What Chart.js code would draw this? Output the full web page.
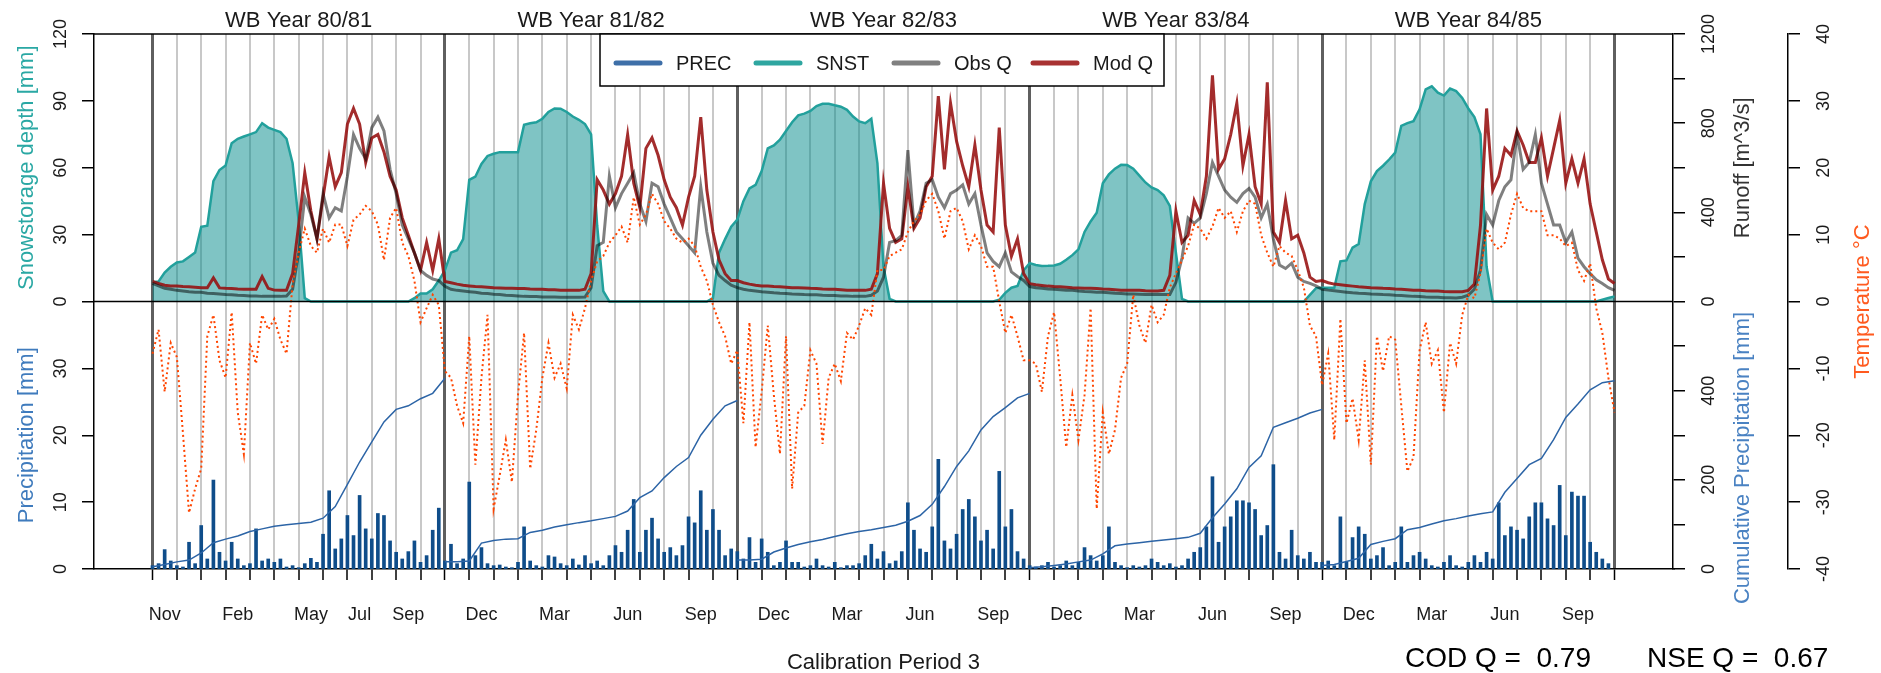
<!DOCTYPE html>
<html>
<head>
<meta charset="utf-8">
<script src="https://cdn.jsdelivr.net/npm/chart.js@4.4.1/dist/chart.umd.min.js"></script>
<style>
html,body{margin:0;padding:0;background:#fff;}
canvas{display:block;}
</style>
</head>
<body>
<canvas id="chart" width="1881" height="673"></canvas>
<script>
/* values every quarter month, Nov 1980 .. Oct 1985 */
const snst = [
  8.6,9,13,15.6,17.5,18,20,22,33.5,34,54,59,61,71,73,74,75,76,80,78,77,76,73,62,36,1.5,0,0,0,0,0,0,0,0,0,0,0,0,0,0,0,0,0,1.5,3.6,3.6,5.5,9.4,
  14,21.9,23,28,54.6,56,61.7,65.3,66.3,67,67,67,67,79.3,80,80.4,82,85,86.6,86.5,85,83,81.5,79.6,75,34,4.7,0,0,0,0,0,0,0,0,0,0,0,0,0,0,0,0,0,1.5,21.9,28,33.6,
  36.7,45,50.7,52.3,58.5,68.7,70,72.6,76.5,80.4,83.5,84.3,85.5,87.7,88.7,88.7,88,87.4,86,83,80.8,80,82,62,15.6,1.2,0,0,0,0,0,0,0,0,0,0,0,0,0,0,0,0,0,0.8,3.9,6.2,7,14,
  17.2,16.4,15.9,16,16.2,16.9,18.7,20.8,23.4,31.2,35.9,39.8,53,57,59.6,61.3,61.2,59.6,56.5,53.4,51.2,50,47.6,42.9,21.9,1.2,0,0,0,0,0,0,0,0,0,0,0,0,0,0,0,0,0,0,0,0,3,6,
  6.2,6.2,6.2,18,18.4,24.2,25.8,43.7,53.9,58.5,60.9,63.7,66.8,78.8,80,80.9,86.2,95.2,96.5,93.7,92.4,95.5,94.4,91.3,86.6,82.7,75,15.6,0,0,0,0,0,0,0,0,0,0,0,0,0,0,0,0,0,0,0.8,1.6,
  2.3
];
const obsQ = [
  81,70,59,55,50,47,44,42,41,37,36,34,31,30,28,27,25,25,23,23,23,23,25,55,218,468,390,281,484,375,421,406,562,749,687,640,780,827,765,593,484,343,281,218,140,117,101,94,
  68,55,50,47,44,41,37,36,33,31,28,27,25,23,22,22,20,20,20,19,19,19,19,20,62,250,265,562,421,484,531,578,437,359,531,515,437,375,312,281,250,218,515,312,172,117,94,73,
  62,55,50,47,44,42,39,37,36,34,33,31,30,30,28,27,27,25,25,23,23,23,28,47,109,265,273,297,679,343,406,531,546,468,421,484,500,523,437,484,343,218,180,156,218,133,112,94,
  67,62,59,56,55,53,51,50,47,45,44,42,41,39,37,36,34,34,33,31,31,31,31,31,86,195,375,351,375,484,624,562,500,468,445,484,507,468,375,437,281,164,148,172,109,90,81,70,
  55,51,48,45,42,39,37,36,34,33,31,30,28,27,25,23,22,20,19,19,17,17,16,19,28,55,140,390,343,453,515,546,749,593,624,749,531,437,343,343,265,312,195,156,125,97,81,62,
  50
];
const modQ = [
  90,81,73,70,69,67,66,64,62,62,106,61,59,58,56,55,55,55,112,59,51,50,50,125,343,578,406,281,468,648,515,578,796,866,796,624,734,749,671,562,500,375,297,218,140,265,140,281,
  90,84,78,73,70,67,66,64,62,61,59,59,58,58,56,55,55,53,53,51,51,50,50,55,125,546,500,437,484,562,749,531,421,687,734,656,546,468,421,343,468,562,827,500,312,187,125,94,
  94,84,78,73,70,69,67,66,64,62,62,61,59,58,56,55,55,53,51,51,50,50,55,125,531,328,265,281,515,328,375,515,562,921,593,890,718,609,515,702,500,343,312,780,343,203,281,125,
  80,75,72,69,67,66,64,62,61,59,59,58,56,55,53,51,50,50,50,48,47,47,50,117,406,265,297,453,390,562,1015,593,640,749,890,609,749,515,437,983,312,265,453,281,297,218,109,90,
  94,84,78,75,72,69,66,64,62,61,59,58,56,55,53,51,50,48,47,47,45,44,44,44,50,78,343,866,500,562,687,656,765,702,624,624,734,562,687,812,531,640,531,640,437,312,187,101,
  81
];
const temp = [
  -7.8,-4.2,-13.5,-6.2,-8.3,-19.7,-31.6,-28,-25,-5.2,-2,-8.8,-11.4,-1.6,-16.6,-22.8,-6.2,-9.3,-2,-4.2,-2.6,-5.7,-7.8,2.6,7.3,10.9,8.3,7.3,10.9,8.8,11.5,11.5,8.3,12.2,13,14.3,13.5,11.5,6.2,12.5,14,8.8,6.8,3.1,-3.1,-1,1,-0.5,
  -10.4,-11.4,-15.6,-18.2,-5.2,-24.4,-11.4,-2,-31,-26,-20.7,-27,-14,-4.7,-25,-19.2,-11.4,-6.2,-11.4,-9.3,-13,-2,-4.2,-1,3.1,6,6.8,8.8,9.9,11.2,8.8,15.6,11.5,13,16.1,14.6,12,10.9,9.4,8.8,9.4,8.3,5.2,3.1,-0.5,-3.1,-5.2,-9.3,
  -7.3,-18.2,-3.1,-21.8,-13.5,-3.6,-14,-22.8,-5.2,-28,-16.6,-15.6,-7.3,-9.3,-21.3,-11.4,-9.3,-11.9,-4.7,-5.7,-3.6,-1,-2,4.7,4.7,6.8,7.3,7.8,10.4,12,13,15.1,16.1,13.5,9.4,13.5,14,12,7.8,9.9,8.3,5.2,5.2,0,-4.7,-2,-5.2,-8.8,
  -8.8,-9.3,-13.5,-5.2,-1.6,-11.4,-21.8,-14,-20.7,-14,-1,-31,-16.6,-22.8,-19.2,-11.4,-9.3,1,-3.6,-6.2,-0.5,-3.1,-2,2.1,4.2,6.2,8.3,11.5,10.9,9.4,11.2,14,12.5,13.5,10.4,13.5,15.1,14.6,9.9,7.3,5.2,8.3,7.3,6.8,4.7,2.1,-3.6,-5.2,
  -12.5,-7.8,-20.7,-2.6,-18.2,-14.5,-20.7,-8.8,-24.4,-5.2,-10.4,-5.2,-5.7,-15.6,-25.4,-23.3,-7.3,-3.1,-9.3,-7.3,-16.6,-6.2,-9.3,-2,1,0.5,4.2,10.9,8.8,7.8,8.8,13,16.1,14,13.5,13.5,13.5,9.9,9.9,9.4,8.3,8.8,4.7,3.1,5.7,-1,-4.7,-11.4,
  -16.6
];
const prec = [
  0.5,0.8,2.9,1.2,0.5,0.3,4,0.8,6.5,1.5,13.3,2.5,1.2,4,1.5,0.5,0.8,6,1.2,1.5,1,1.5,0.3,0.5,0.2,0.8,1.6,1,5.2,11.7,3,4.5,8,5,11,6,4.5,8.3,8,4.2,2.5,1.5,2.6,4.2,1,2,5.8,9.1,
  1.2,3.7,0.8,1.5,13,2,3.2,0.8,0.5,0.6,0.3,0.2,1,6.3,1.2,0.5,0.3,2,1.8,0.8,0.5,1.5,0.6,2,0.8,1.2,0.5,2,3.5,2.5,5.8,10.4,2.5,5.8,7.6,4.5,2.5,3.2,2,3.5,7.8,6.9,11.7,5.8,8.9,5.8,2,3,
  2.6,1.5,4.7,1,4.5,2.5,0.5,1,4.2,1,1,0.3,0.5,1.5,0.5,0.3,1,0.2,0.5,0.5,0.8,2,3.7,1.5,2.6,0.8,1.2,2.6,9.9,5.8,3,2.5,6.3,16.4,4.2,3,5.2,8.9,10.4,7.8,4.2,5.8,3,14.6,6.3,8.9,2.6,1.5,
  0.5,0.3,0.5,1,0.3,0.5,1.2,0.5,1,3.2,2,1.2,2,6.3,1,0.5,0.2,0.5,0.3,0.5,1.5,1,0.5,0.8,0.3,0.5,1.5,2.5,3.2,6.3,13.8,4,6.3,7.8,10.2,10.2,9.9,8.9,5,6.5,15.6,2.5,1.5,5.8,2,1.5,2.5,1,
  1,1.2,0.5,7.8,1,4.7,6.3,5.2,1.5,2,3.2,0.5,1,6.3,1,2,2.5,1.5,0.5,0.3,1,2,0.5,0.3,1,2,1,2.5,1.5,9.9,5,6.3,5.8,4.5,7.8,9.9,9.9,7.5,6.5,12.5,5,11.5,10.9,10.9,4,2.5,1.5,0.8
];
/* cumulative precipitation, every half month, restarts each water year */
const cumPrec = [
  [5,10,16,20,36,59,67,74,84,90,96,99,102,105,114,140,190,240,285,330,358,366,382,394,428],
  [16,16,18,58,64,67,68,82,87,94,99,104,108,113,118,130,160,175,205,230,250,300,336,366,378],
  [20,20,22,38,47,55,61,66,73,79,84,88,93,98,107,120,145,185,230,265,312,342,362,384,394],
  [3,5,8,11,16,20,34,52,56,59,62,65,68,71,80,115,146,180,228,254,318,328,338,350,358],
  [8,10,17,24,55,62,68,88,93,101,108,113,119,124,128,172,203,234,248,290,340,370,402,418,422]
];

const yearTitles = ['WB Year 80/81','WB Year 81/82','WB Year 82/83','WB Year 83/84','WB Year 84/85'];
const monthLabels = [[0,'Nov'],[3,'Feb'],[6,'May'],[8,'Jul'],[10,'Sep'],
  [13,'Dec'],[16,'Mar'],[19,'Jun'],[22,'Sep'],[25,'Dec'],[28,'Mar'],[31,'Jun'],[34,'Sep'],
  [37,'Dec'],[40,'Mar'],[43,'Jun'],[46,'Sep'],[49,'Dec'],[52,'Mar'],[55,'Jun'],[58,'Sep']];
const snowTicks = [0,30,60,90,120];
const precTicks = [0,10,20,30];
const runoffTicks = [0,400,800,1200];
const cumTicks = [0,200,400];
const legendItems = [['PREC','#3e6fa8'],['SNST','#2ea6a0'],['Obs Q','#808080'],['Mod Q','#a83232']];
const stats = ['COD Q =  0.79','NSE Q =  0.67'];

const FONT = "'Liberation Sans', Arial, sans-serif";
Chart.defaults.font.family = FONT;

const STEP = 0.25;
const pts = arr => arr.map((v,i)=>({x:i*STEP, y:v}));
const precData = prec.map((v,i)=>({x:i*STEP, y:v}));
const cumData = [];
cumPrec.forEach((yr,k)=>{
  yr.forEach((v,j)=>cumData.push({x:k*12+j*0.5, y:v}));
  cumData.push({x:k*12+12, y:null});
});
const labelFor = {};
monthLabels.forEach(([m,l])=>labelFor[m]=l);

function vtext(ctx, txt, x, y, color){
  ctx.save();
  ctx.translate(x,y);
  ctx.rotate(-Math.PI/2);
  ctx.fillStyle = color;
  ctx.textAlign = 'center';
  ctx.textBaseline = 'middle';
  ctx.fillText(txt,0,0);
  ctx.restore();
}

const decor = {
  id:'decor',
  afterDatasetsDraw(chart){
    const {ctx, chartArea:a, scales} = chart;
    const y0 = scales.yL.getPixelForValue(0);
    ctx.save();
    ctx.strokeStyle = '#000';
    ctx.lineWidth = 1.5;
    ctx.beginPath();
    ctx.moveTo(a.left,y0); ctx.lineTo(a.right,y0);
    ctx.moveTo(a.left,a.top); ctx.lineTo(a.right,a.top);
    ctx.stroke();
    ctx.restore();
  },
  afterDraw(chart){
    const {ctx, chartArea:a, scales} = chart;
    const y0 = scales.yL.getPixelForValue(0);
    ctx.save();
    // year titles
    ctx.font = '22px '+FONT;
    ctx.fillStyle = '#1a1a1a';
    ctx.textAlign = 'center';
    ctx.textBaseline = 'alphabetic';
    yearTitles.forEach((t,k)=>ctx.fillText(t, scales.x.getPixelForValue(k*12+6), 27));
    ctx.fillText('Calibration Period 3', (a.left+a.right)/2, 669);
    // axis titles
    vtext(ctx,'Snowstorage depth [mm]',27,(a.top+y0)/2,'#2aa8a4');
    vtext(ctx,'Precipitation [mm]',27,(y0+a.bottom)/2,'#3f7bbd');
    vtext(ctx,'Runoff [m^3/s]',1743,(a.top+y0)/2,'#333');
    vtext(ctx,'Cumulative Precipitation [mm]',1743,458,'#4a82c2');
    vtext(ctx,'Temperature °C',1863,y0,'#ff5a1f');
    // legend
    ctx.fillStyle = '#fff';
    ctx.fillRect(600,a.top,564,52);
    ctx.strokeStyle = '#000';
    ctx.lineWidth = 1.5;
    ctx.strokeRect(600,a.top,564,52);
    const sx = [616,756,894,1033];
    ctx.font = '20px '+FONT;
    ctx.textAlign = 'left';
    ctx.textBaseline = 'middle';
    legendItems.forEach(([l,c],i)=>{
      ctx.strokeStyle = c; ctx.lineWidth = 5; ctx.lineCap = 'round';
      ctx.beginPath(); ctx.moveTo(sx[i],63); ctx.lineTo(sx[i]+44,63); ctx.stroke();
      ctx.fillStyle = '#1a1a1a';
      ctx.fillText(l, sx[i]+60, 64);
    });
    // stats
    ctx.font = '28px '+FONT;
    ctx.fillStyle = '#000';
    ctx.textBaseline = 'alphabetic';
    ctx.fillText(stats[0],1405,667);
    ctx.fillText(stats[1],1647,667);
    ctx.restore();
  }
};

const tickFont = {size:18, family:FONT};
const yCommon = {
  grid:{drawOnChartArea:false, tickLength:12, color:'#000', lineWidth:1.5},
  border:{color:'#000', width:1.5}
};

new Chart(document.getElementById('chart'), {
  type:'line',
  data:{datasets:[
    {label:'SNST', data:pts(snst), yAxisID:'yL', borderColor:'#22a09c', backgroundColor:'rgba(0,138,138,0.5)', fill:'origin', borderWidth:2.5, pointRadius:0, order:6},
    {label:'Mod Q', data:pts(modQ), yAxisID:'yR', borderColor:'rgba(150,15,15,0.88)', borderWidth:3, pointRadius:0, fill:false, order:5},
    {label:'Obs Q', data:pts(obsQ), yAxisID:'yR', borderColor:'rgba(0,0,0,0.5)', borderWidth:3, pointRadius:0, fill:false, order:4},
    {label:'Temp', data:pts(temp), yAxisID:'yT', borderColor:'#ff4500', borderWidth:2, borderDash:[2,3], pointRadius:0, fill:false, order:3},
    {type:'bar', label:'PREC', data:precData, yAxisID:'yP', backgroundColor:'#0f4d8a', barThickness:3, order:2},
    {label:'Cum', data:cumData, yAxisID:'yC', borderColor:'#2c64a6', borderWidth:1.5, pointRadius:0, fill:false, spanGaps:false, order:1}
  ]},
  options:{
    responsive:false, devicePixelRatio:1, animation:false,
    layout:{padding:{top:34, left:0, right:0, bottom:0}},
    plugins:{legend:{display:false}, tooltip:{enabled:false}},
    scales:{
      x:{
        type:'linear', min:-2.4, max:62.4, offset:false, bounds:'data',
        afterBuildTicks:s=>{ s.ticks = Array.from({length:61},(_,i)=>({value:i})); },
        afterFit:s=>{ s.height = 104; },
        ticks:{autoSkip:false, minRotation:0, maxRotation:0, padding:24, labelOffset:12.2, font:tickFont, color:'#1a1a1a',
          callback:v=>labelFor[v]||''},
        grid:{
          offset:false,
          color:c=>(c.tick && c.tick.value%12===0)?'#5f5f5f':'#c8c8c8',
          lineWidth:c=>(c.tick && c.tick.value%12===0)?3:2,
          tickLength:11, tickColor:'#000', tickWidth:1.5
        },
        border:{color:'#000', width:1.5}
      },
      yL:{
        ...yCommon, position:'left', min:-120, max:120,
        afterFit:s=>{ s.width = 94; },
        ticks:{stepSize:30, autoSkip:false, minRotation:90, maxRotation:90, crossAlign:'center', padding:6, font:tickFont, color:'#1a1a1a',
          callback:v=>{
            if(v>=0) return snowTicks.includes(v)?String(v):'';
            const p=(v+120)/3; return precTicks.includes(p)?String(p):'';
          }}
      },
      yR:{
        ...yCommon, position:'right', weight:1, min:-1200, max:1200,
        afterFit:s=>{ s.width = 115; },
        ticks:{stepSize:200, autoSkip:false, minRotation:90, maxRotation:90, crossAlign:'center', padding:4, font:tickFont, color:'#1a1a1a',
          callback:v=>{
            if(v>=0) return runoffTicks.includes(v)?String(v):'';
            const c=(v+1200)/2; return cumTicks.includes(c)?String(c):'';
          }}
      },
      yT:{
        ...yCommon, position:'right', weight:2, min:-40, max:40,
        afterFit:s=>{ s.width = 93; },
        ticks:{stepSize:10, autoSkip:false, minRotation:90, maxRotation:90, crossAlign:'center', padding:11, font:tickFont, color:'#1a1a1a'}
      },
      yP:{display:false, min:0, max:80},
      yC:{display:false, min:0, max:1200}
    }
  },
  plugins:[decor]
});
</script>
</body>
</html>
